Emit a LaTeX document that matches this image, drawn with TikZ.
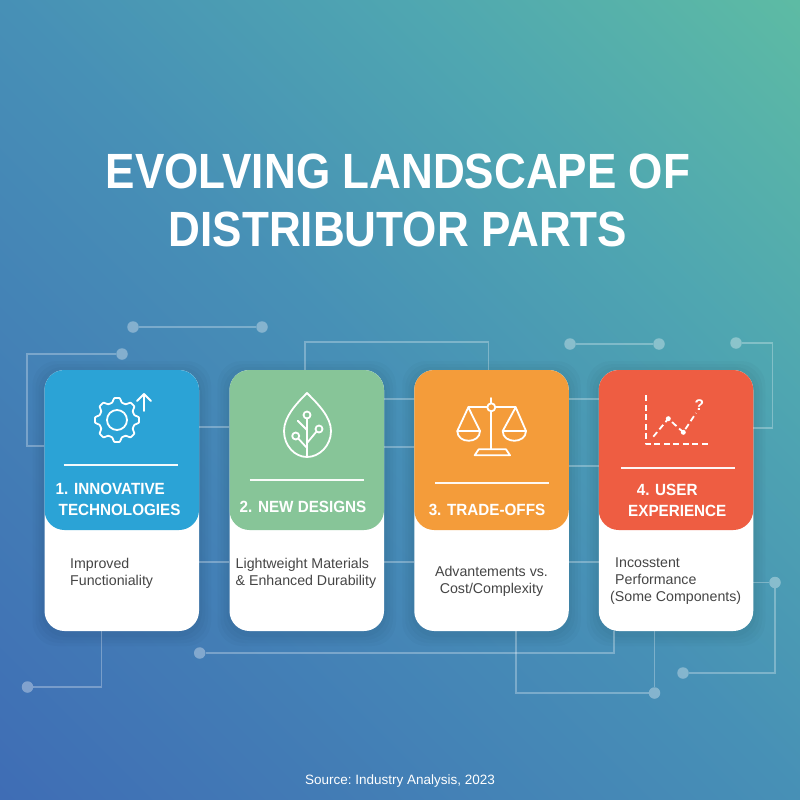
\documentclass[tikz,border=0pt]{standalone}
\usepackage{fontspec}
\setmainfont{Liberation Sans}
\newfontfamily\titlefam[FakeStretch=0.89]{Liberation Sans}
\newfontfamily\headfam[FakeStretch=0.94]{Liberation Sans}
\definecolor{bgA}{HTML}{3F6DB5}
\definecolor{bgM}{HTML}{4790B6}
\definecolor{bgN}{HTML}{4FA6B1}
\definecolor{bgB}{HTML}{5DBBA4}
\definecolor{headA}{HTML}{2BA3D6}
\definecolor{headB}{HTML}{87C598}
\definecolor{headC}{HTML}{F49C3A}
\definecolor{headD}{HTML}{EE5D42}
\definecolor{bodytext}{HTML}{454545}
\pgfdeclareverticalshading{bgshade}{100bp}{color(0bp)=(bgA); color(25bp)=(bgA); color(50bp)=(bgM); color(62.5bp)=(bgN); color(75bp)=(bgB); color(100bp)=(bgB)}
\tikzset{
  x=1pt,y=-1pt,
  link/.style={draw=white,draw opacity=.29,line width=1.4pt},
  hub/.style={circle,fill=white,fill opacity=.34,inner sep=0pt,minimum size=11.5pt},
  cardbody/.style={fill=white,rounded corners=20pt,minimum width=154.5pt,minimum height=261pt,inner sep=0pt},
  cardhead/.style={rounded corners=20pt,minimum width=154.5pt,minimum height=160pt,inner sep=0pt},
  rule/.style={draw=white,line width=1.8pt,opacity=.95},
  glyph/.style={draw=white,line width=1.8pt,line join=round,line cap=round},
  chartline/.style={glyph,line cap=butt,dash pattern=on 6pt off 3.5pt},
  titletext/.style={text=white,font=\fontsize{49.5}{57.5}\selectfont\titlefam\bfseries,align=center,inner sep=0pt},
  headtext/.style={text=white,font=\fontsize{16.2}{21}\selectfont\headfam\bfseries,align=center,inner sep=0pt},
  bodylabel/.style={text=bodytext,font=\fontsize{14.2}{17.3}\selectfont\frenchspacing,inner sep=0pt},
  sourcetext/.style={text=white,font=\fontsize{13.5}{16}\selectfont\frenchspacing,inner sep=0pt}
}
\begin{document}
\begin{tikzpicture}
\useasboundingbox (0,0) rectangle (800,800);
% background
\begin{scope}
\clip (0,0) rectangle (800,800);
\shade[shading=bgshade,shading angle=-45] (-166,-166) rectangle (966,966);
\end{scope}
% card shadows
\foreach \cx in {121.75,306.75,491.5,676} {
  \foreach \g in {12,9,6,3} {
    \fill[black,opacity=.018,rounded corners=24pt] (\cx-77.25-\g,370+3-\g) rectangle (\cx+77.25+\g,631+3+\g);
  }
}
% cards
\node[cardbody] (c1) at (121.75,500.5) {};
\node[cardbody] (c2) at (306.75,500.5) {};
\node[cardbody] (c3) at (491.5,500.5) {};
\node[cardbody] (c4) at (676,500.5) {};
\node[cardhead,fill=headA] (h1) at (121.75,450) {};
\node[cardhead,fill=headB] (h2) at (306.75,450) {};
\node[cardhead,fill=headC] (h3) at (491.5,450) {};
\node[cardhead,fill=headD] (h4) at (676,450) {};
% hubs
\node[hub] (a1) at (133,327) {};
\node[hub] (a2) at (262,327) {};
\node[hub] (b1) at (122,354) {};
\node[hub] (d1) at (570,344) {};
\node[hub] (d2) at (659,344) {};
\node[hub] (e1) at (736,343) {};
\node[hub] (f1) at (27.5,687) {};
\node[hub] (g1) at (199.7,653) {};
\node[hub] (k1) at (654.5,693) {};
\node[hub] (m1) at (775,582.5) {};
\node[hub] (m2) at (683,673) {};
% connectors
\draw[link] (a1) -- (a2);
\draw[link] (b1) -- (27,354) -- (27,446) -- (c1.west |- 0,446);
\draw[link] (c1.east |- 0,427) -- (c2.west |- 0,427);
\draw[link] (c2.north -| 305,0) -- (305,342) -- (488.5,342) -- (c3.north -| 488.5,0);
\draw[link] (c2.east |- 0,399) -- (c3.west |- 0,399);
\draw[link] (c2.east |- 0,447) -- (c3.west |- 0,447);
\draw[link] (c3.east |- 0,399) -- (c4.west |- 0,399);
\draw[link] (c3.east |- 0,466) -- (c4.west |- 0,466);
\draw[link] (d1) -- (d2);
\draw[link] (e1) -- (772.5,343) -- (772.5,428) -- (c4.east |- 0,428);
\draw[link] (c1.south -| 101.5,0) -- (101.5,687) -- (f1);
\draw[link] (c1.east |- 0,562) -- (c2.west |- 0,562);
\draw[link] (c2.east |- 0,562) -- (c3.west |- 0,562);
\draw[link] (c3.east |- 0,562) -- (c4.west |- 0,562);
\draw[link] (g1) -- (614,653) -- (c4.south -| 614,0);
\draw[link] (c3.south -| 516,0) -- (516,693) -- (k1);
\draw[link] (c4.south -| 654.5,0) -- (k1);
\draw[link] (c4.east |- 0,582.5) -- (m1);
\draw[link] (m1) -- (775,673) -- (m2);
% title
\node[titletext] (title) at (398,200.5) {EVOLVING LANDSCAPE OF\\DISTRIBUTOR PARTS};
% separators
\draw[rule] (63.5,465) -- (178,465);
\draw[rule] (249.5,480) -- (364,480);
\draw[rule] (435,482.7) -- (548.7,482.7);
\draw[rule] (621,468) -- (735,468);
% headings
\node[headtext,align=left,anchor=west] (t1) at (55.5,499.5) {1. INNOVATIVE\\\hspace*{3pt}TECHNOLOGIES};
\node[headtext] (t2) at (303,507) {2. NEW DESIGNS};
\node[headtext] (t3) at (487,510) {3. TRADE-OFFS};
\node[headtext,align=left,anchor=west] (t4) at (628,500.5) {\hspace*{8.7pt}4. USER\\EXPERIENCE};
% body texts
\node[bodylabel,align=left,anchor=west] (p1) at (70,573) {Improved\\Functioniality};
\node[bodylabel,align=left,anchor=west] (p2) at (235.5,573.5) {Lightweight Materials\\\& Enhanced Durability};
\node[bodylabel,align=center] (p3) at (491.5,581) {Advantements vs.\\Cost/Complexity};
\node[bodylabel,align=left,anchor=west] (p4) at (610,581) {\hspace*{5pt}Incosstent\\\hspace*{5pt}Performance\\(Some Components)};
% source
\node[sourcetext] (src) at (400,781) {Source: Industry Analysis, 2023};
% gear icon
\draw[glyph] plot[smooth cycle,tension=.15] coordinates {
  (117+22*cos 7,420+22*sin 7) (117+18*cos 16,420+18*sin 16) (117+18*cos 29,420+18*sin 29) (117+22*cos 38,420+22*sin 38)
  (117+22*cos 52,420+22*sin 52) (117+18*cos 61,420+18*sin 61) (117+18*cos 74,420+18*sin 74) (117+22*cos 83,420+22*sin 83)
  (117+22*cos 97,420+22*sin 97) (117+18*cos 106,420+18*sin 106) (117+18*cos 119,420+18*sin 119) (117+22*cos 128,420+22*sin 128)
  (117+22*cos 142,420+22*sin 142) (117+18*cos 151,420+18*sin 151) (117+18*cos 164,420+18*sin 164) (117+22*cos 173,420+22*sin 173)
  (117+22*cos 187,420+22*sin 187) (117+18*cos 196,420+18*sin 196) (117+18*cos 209,420+18*sin 209) (117+22*cos 218,420+22*sin 218)
  (117+22*cos 232,420+22*sin 232) (117+18*cos 241,420+18*sin 241) (117+18*cos 254,420+18*sin 254) (117+22*cos 263,420+22*sin 263)
  (117+22*cos 277,420+22*sin 277) (117+18*cos 286,420+18*sin 286) (117+18*cos 299,420+18*sin 299) (117+22*cos 308,420+22*sin 308)
  (117+22*cos 322,420+22*sin 322) (117+18*cos 331,420+18*sin 331) (117+18*cos 344,420+18*sin 344) (117+22*cos 353,420+22*sin 353)
};
\draw[glyph] (117,420) circle[radius=10];
\draw[glyph] (144,411) -- (144,394);
\draw[glyph] (137,401) -- (144,394) -- (151,401);
% leaf icon
\draw[glyph] (307,393) .. controls (296,404) and (284,417) .. (284,431) .. controls (284,446) and (295,457) .. (307,457) .. controls (319,457) and (331,446) .. (331,431) .. controls (331,417) and (318,404) .. (307,393) -- cycle;
\draw[glyph] (307,457) -- (307,418.5);
\draw[glyph] (307,415) circle[radius=3.5];
\draw[glyph] (319,429) circle[radius=3.5];
\draw[glyph] (295.7,436) circle[radius=3.5];
\draw[glyph] (307,443) -- (316.5,431.5);
\draw[glyph] (307,448) -- (298.3,438.5);
\draw[glyph] (297.7,420.7) -- (307,430);
% scales icon
\draw[glyph] (491.3,398) -- (491.3,403.3);
\draw[glyph] (491.3,411.3) -- (491.3,449.3);
\draw[glyph] (491.3,407.3) circle[radius=4];
\draw[glyph] (468.3,407.3) -- (487.3,407.3);
\draw[glyph] (495.3,407.3) -- (515.7,407.3);
\draw[glyph] (457.3,431) -- (468.3,407.3) -- (480,431);
\draw[glyph] (457.3,431) -- (480,431) .. controls (480,444) and (457.3,444) .. (457.3,431);
\draw[glyph] (502.7,431) -- (515.7,407.3) -- (526,431);
\draw[glyph] (502.7,431) -- (526,431) .. controls (526,444) and (502.7,444) .. (502.7,431);
\draw[glyph] (474.7,455.3) -- (478.7,449.3) -- (506,449.3) -- (510,455.3) -- cycle;
% chart icon
\draw[chartline] (646.3,395.3) -- (646.3,444.3) -- (710.7,444.3);
\draw[chartline] (653.3,436.7) -- (668.3,418.7) -- (683.3,432.3) -- (696,413);
\fill[white] (668.3,418.7) circle[radius=2.5];
\fill[white] (683.3,432.3) circle[radius=2.5];
\node[text=white,font=\fontsize{15.5}{16}\selectfont\bfseries,inner sep=0pt] (q) at (699.3,405) {?};
\end{tikzpicture}
\end{document}
